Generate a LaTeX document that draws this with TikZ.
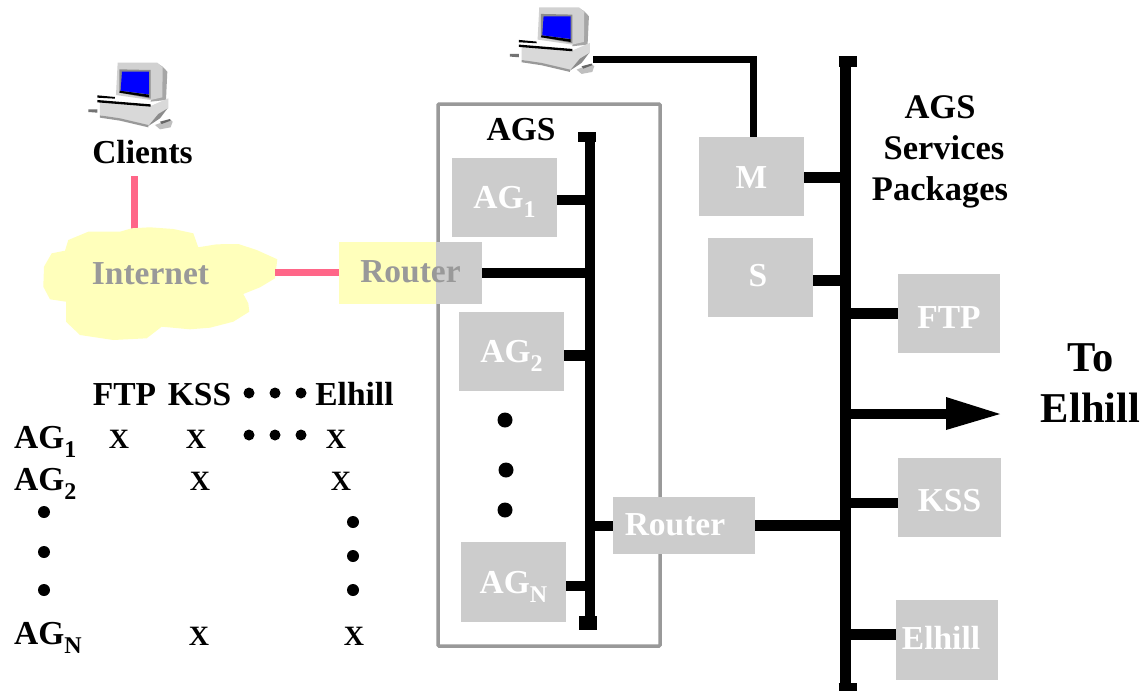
\documentclass[tikz,border=0pt]{standalone}
\usepackage{fontspec}
\setmainfont{Liberation Serif}
\definecolor{boxgrey}{HTML}{CCCCCC}
\definecolor{framegrey}{HTML}{999999}
\definecolor{cloudy}{HTML}{FFFFBB}
\definecolor{pinkline}{HTML}{FF6688}
\newcommand{\subs}[1]{\raisebox{-9pt}{\fontsize{24}{24}\selectfont #1}}
\newcommand{\pcicon}[2]{%
\begin{scope}[shift={(#1,#2)},x=0.3333pt,y=-0.3333pt]
 \fill[black!35] (235,42)--(248,50)--(262,65)--(258,150)--(212,155)--cycle;
 \fill[black!18] (113,38)--(232,38)--(248,52)--(247,142)--(212,150)--(108,135)--cycle;
 \fill[black!45] (118,58)--(212,60)--(212,146)--(118,128)--cycle;
 \fill[black] (120,122)--(207,134)--(207,142)--(118,128)--cycle;
 \fill[blue] (126,65)--(207,65)--(207,133)--(122,122)--cycle;
 \fill[black!15] (60,155)--(212,168)--(265,145)--(265,175)--(235,195)--(205,228)--(60,195)--cycle;
 \fill[black!45] (205,228)--(235,192)--(262,176)--(240,205)--cycle;
 \fill[black] (52,136)--(105,141)--(105,146)--(52,143)--cycle;
 \fill[black] (52,150)--(212,163)--(212,170)--(52,157)--cycle;
 \fill[black!55] (25,178)--(52,178)--(52,188)--(25,186)--cycle;
 \fill[black!40] (60,196)--(120,205)--(205,225)--(205,232)--(120,212)--(60,203)--cycle;
 \fill[black!25] (225,225)--(270,208)--(278,215)--(272,232)--(240,238)--cycle;
 \fill[black!60] (240,215)--(270,207)--(272,212)--(245,222)--cycle;
\end{scope}}
\tikzset{
  x=1pt,y=-1pt,
  lbl/.style={font=\fontsize{33.5}{41}\selectfont\bfseries,inner sep=0pt,text=black,align=center},
  mark x/.style={font=\fontsize{28}{30}\selectfont\bfseries,inner sep=0pt,anchor=base},
  gbox/.style n args={3}{rectangle,fill=boxgrey,draw=none,inner sep=0pt,text=white,
     font=\fontsize{33.5}{41}\selectfont\bfseries,
     minimum width=#1pt,minimum height=#2pt,text height=#3pt,text depth=0pt},
  busline/.style={line width=10.5pt,draw=black,line cap=butt},
  stub/.style={line width=10.5pt,draw=black,line cap=butt},
  pink/.style={line width=7pt,draw=pinkline},
  dot/.style={circle,fill=black,draw=none,inner sep=0pt,minimum size=#1pt},
  dot/.default=14
}
\begin{document}
\begin{tikzpicture}
\useasboundingbox (0,0) rectangle (1146,691);
\fill[white] (0,0) rectangle (1146,691);

% computers
\pcicon{80}{50}
\pcicon{501.6}{-5.4}
\node[lbl,anchor=base] (clients) at (142.5,163) {Clients};

% coordinates on the buses
\coordinate (b1top) at (590,132);
\coordinate (b1bot) at (590,630);
\coordinate (b2top) at (845.5,56);
\coordinate (b2bot) at (845.5,691);
\coordinate (b1ag1) at (590,200);
\coordinate (b1r) at (590,273);
\coordinate (b1ag2) at (590,355.5);
\coordinate (b1r2) at (590,526);
\coordinate (b1agn) at (590,586);
\coordinate (b2m) at (846,177.5);
\coordinate (b2s) at (846,280.5);
\coordinate (b2ftp) at (846,313.5);
\coordinate (b2to) at (846,414);
\coordinate (totip) at (1000,414);
\coordinate (b2r) at (846,525.5);
\coordinate (b2kss) at (846,503);
\coordinate (b2el) at (846,634.5);
\coordinate (pcclient) at (134.5,176);
\coordinate (cloudtop) at (134.5,232);
\coordinate (cloudright) at (275,272.5);
\coordinate (pcend) at (593,59.5);
\coordinate (mtop) at (753,137);
\coordinate (pccorner) at (753,59.5);

% AGS frame
\draw[framegrey,line width=3.5pt,rounded corners=1pt] (438,104) rectangle (660,646);
\node[lbl,anchor=base] (agslabel) at (521,140) {AGS};

% pink links
\draw[pink] (pcclient) -- (cloudtop);

% cloud
\fill[cloudy] (131.7,228.3)--(150,227.3)--(173.3,229)--(193.3,233.3)--(198.3,247.3)--(216.7,244.3)--(238.3,244)--(256.7,250)--(277.3,259.3)--(275,278.3)--(260,287.3)--(243.3,294)--(248.3,303.3)--(249.3,311.7)--(233.3,321.7)--(210,327.7)--(190,329.3)--(161.7,326.7)--(146.7,338.3)--(113.3,340)--(80,335)--(66,321.7)--(66,301.7)--(50,299.3)--(43.3,286.7)--(44,266.7)--(51.7,253.3)--(65,250.7)--(68.3,240)--(88.3,231.7)--(120,231.7)--cycle;
\node[lbl,anchor=base,text=framegrey] (internet) at (150.5,284) {Internet};

% buses
\draw[busline] (b1top) -- (b1bot);
\draw[busline] (b2top) -- (b2bot);
\draw[line width=10.5pt] ([xshift=-3pt]b1top) ++(-9,5) -- ++(18,0);
\draw[line width=14pt] ([xshift=-2pt]b1bot) ++(-9,-7) -- ++(18,0);
\draw[line width=11pt] ([xshift=2pt]b2top) ++(-9,5.5) -- ++(18,0);
\draw[line width=8pt] ([xshift=2pt]b2bot) ++(-9,-4) -- ++(18,0);

% boxes
\node[gbox={105}{79}{21}] (ag1) at (504.5,197.5) {AG\subs{1}};
\node[gbox={105}{79}{22}] (ag2) at (511.5,351.5) {AG\subs{2}};
\node[gbox={105}{80}{22}] (agn) at (513.5,582) {AG\subs{N}};
\node[gbox={143}{62}{18.5},text=framegrey,
  path picture={\fill[cloudy] (path picture bounding box.south west) rectangle ([xshift=97pt]path picture bounding box.north west);}]
  (router1) at (410.5,273) {Router};
\node[gbox={142}{57}{19}] (router2) at (684,525.5) {Router\hspace*{18pt}};
\node[gbox={105}{79}{23}] (m) at (751.5,176.5) {M};
\node[gbox={105}{79}{18}] (s) at (760.5,277.5) {S\hspace*{5pt}};
\node[gbox={102}{79}{29}] (ftp) at (949,313.5) {FTP};
\node[gbox={103}{79}{28}] (kss) at (949.5,497.5) {KSS};
\node[gbox={102}{80}{18}] (elhill) at (947,640) {Elhill\hspace*{12pt}};

% stubs
\draw[stub] (ag1.east |- b1ag1) -- (b1ag1);
\draw[stub] (router1.east |- b1r) -- (b1r);
\draw[stub] (ag2.east |- b1ag2) -- (b1ag2);
\draw[stub] (router2.west |- b1r2) -- (b1r2);
\draw[stub] (agn.east |- b1agn) -- (b1agn);
\draw[stub] (router2.east |- b2r) -- (b2r);
\draw[stub] (m.east |- b2m) -- (b2m);
\draw[stub] (s.east |- b2s) -- (b2s);
\draw[stub] (ftp.west |- b2ftp) -- (b2ftp);
\draw[stub] (kss.west |- b2kss) -- (b2kss);
\draw[stub] (elhill.west |- b2el) -- (b2el);
\draw[line width=7pt,line join=miter] (pcend) -- (pccorner) -- (mtop);
\draw[pink] (cloudright) -- (router1.west |- cloudright);

% arrow to Elhill
\draw[stub] (b2to) -- ([xshift=-50pt]totip);
\fill[black] (totip) -- ++(-54,-17) -- ++(0,33) -- cycle;

% right-hand labels
\node[lbl,font=\fontsize{34.5}{41}\selectfont\bfseries] (pkgs) at (940,152) {AGS\\\hspace*{8pt}Services\\Packages};
\node[lbl,font=\fontsize{42.5}{51}\selectfont\bfseries] (toel) at (1090.5,383) {To\\Elhill};

% dots in AGS
\node[dot=15] (d1) at (505,420) {};
\node[dot=15] (d2) at (506,470) {};
\node[dot=15] (d3) at (505,510) {};

% table
\node[lbl,anchor=base] (hftp) at (124.5,405) {FTP};
\node[lbl,anchor=base] (hkss) at (199.5,405) {KSS};
\node[lbl,anchor=base] (hel) at (354.5,405) {Elhill};
\node[dot=11] (h1) at (249,393) {};
\node[dot=11] (h2) at (275,393) {};
\node[dot=11] (h3) at (301,393) {};
\node[dot=11] (r1) at (249,435) {};
\node[dot=11] (r2) at (275,435) {};
\node[dot=11] (r3) at (301,435) {};
\node[lbl,anchor=base west] (lag1) at (14,448) {AG\subs{1}};
\node[lbl,anchor=base west] (lag2) at (14,490) {AG\subs{2}};
\node[lbl,anchor=base west] (lagn) at (14,644) {AG\subs{N}};
\node[mark x] (x11) at (119,448) {X};
\node[mark x] (x12) at (196,448) {X};
\node[mark x] (x13) at (336,448) {X};
\node[mark x] (x22) at (200,490) {X};
\node[mark x] (x23) at (341,490) {X};
\node[mark x] (xn2) at (199,645) {X};
\node[mark x] (xn3) at (354,645) {X};
\node[dot=12] (l1) at (44,512) {};
\node[dot=12] (l2) at (44,552) {};
\node[dot=12] (l3) at (44,590) {};
\node[dot=12] (c1) at (353,522) {};
\node[dot=12] (c2) at (353,556) {};
\node[dot=12] (c3) at (353,590) {};
\end{tikzpicture}
\end{document}
